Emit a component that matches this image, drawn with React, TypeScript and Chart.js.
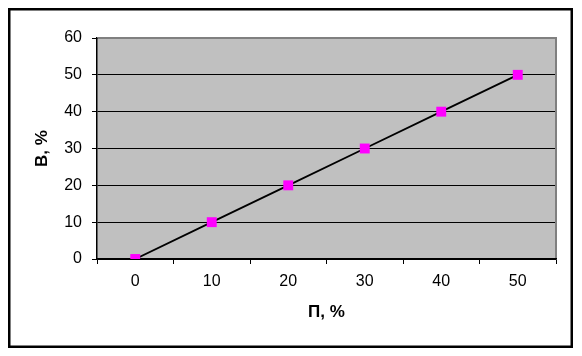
import React, { useEffect, useRef } from "react";
import { Chart, registerables } from "chart.js";

Chart.register(...registerables);

const categories = ["0", "10", "20", "30", "40", "50"];
const values = [0, 10, 20, 30, 40, 50];
const yMin = 0;
const yMax = 60;
const yStep = 10;
const xTitle = "П, %";
const yTitle = "В, %";

const FONT = "'Liberation Sans', Arial, sans-serif";

const framePlugin = {
  id: "frame",
  beforeDraw(chart: any) {
    const { ctx, chartArea } = chart;
    ctx.save();
    ctx.fillStyle = "#ffffff";
    ctx.fillRect(0, 0, chart.width, chart.height);
    ctx.fillStyle = "#C0C0C0";
    ctx.fillRect(chartArea.left, chartArea.top, chartArea.right - chartArea.left, chartArea.bottom - chartArea.top);
    ctx.restore();
  },
  afterDraw(chart: any) {
    const { ctx, chartArea } = chart;
    ctx.save();
    ctx.strokeStyle = "#808080";
    ctx.lineWidth = 2;
    ctx.beginPath();
    ctx.moveTo(chartArea.left + 1, chartArea.top);
    ctx.lineTo(chartArea.right, chartArea.top);
    ctx.lineTo(chartArea.right, chartArea.bottom - 1);
    ctx.stroke();
    ctx.strokeStyle = "#000000";
    ctx.lineWidth = 2.5;
    ctx.strokeRect(9.25, 9.25, 562.5, 337.5);
    ctx.restore();
  },
};

export default function App() {
  const ref = useRef<HTMLCanvasElement | null>(null);

  useEffect(() => {
    if (!ref.current) return;
    const chart = new Chart(ref.current, {
      type: "line",
      data: {
        labels: categories,
        datasets: [
          {
            data: values,
            borderColor: "#000000",
            borderWidth: 1.8,
            backgroundColor: "#FF00FF",
            pointStyle: "rect",
            pointRadius: 7,
            pointBorderWidth: 0,
            pointBackgroundColor: "#FF00FF",
            pointBorderColor: "#FF00FF",
            tension: 0,
          },
        ],
      },
      options: {
        animation: false,
        responsive: true,
        maintainAspectRatio: false,
        layout: { padding: { top: 38, right: 26, bottom: 0, left: 0 } },
        plugins: {
          legend: { display: false },
          tooltip: { enabled: false },
        },
        scales: {
          x: {
            type: "category",
            offset: true,
            afterFit: (s: any) => {
              s.height = 97;
            },
            grid: {
              offset: true,
              drawOnChartArea: false,
              drawTicks: true,
              tickLength: 5,
              color: "#000000",
              lineWidth: 1,
            },
            border: { display: true, color: "#000000", width: 1.5 },
            ticks: {
              color: "#000000",
              padding: 8,
              font: { family: FONT, size: 16 },
              maxRotation: 0,
            },
            title: {
              display: true,
              text: xTitle,
              color: "#000000",
              font: { family: FONT, size: 17, weight: "bold" },
              padding: { top: 0, bottom: 33 },
            },
          },
          y: {
            min: yMin,
            max: yMax,
            afterFit: (s: any) => {
              s.width = 97;
            },
            grid: {
              drawTicks: true,
              tickLength: 5,
              color: "#000000",
              lineWidth: 1,
            },
            border: { display: true, color: "#000000", width: 1.5 },
            ticks: {
              stepSize: yStep,
              color: "#000000",
              padding: 10,
              font: { family: FONT, size: 16 },
            },
            title: {
              display: true,
              text: yTitle,
              color: "#000000",
              font: { family: FONT, size: 17, weight: "bold" },
              padding: { top: 32, bottom: 0 },
            },
          },
        },
      },
      plugins: [framePlugin],
    } as any);
    return () => chart.destroy();
  }, []);

  return (
    <div style={{ position: "fixed", left: 0, top: 0, width: 582, height: 356 }}>
      <canvas ref={ref} />
    </div>
  );
}
